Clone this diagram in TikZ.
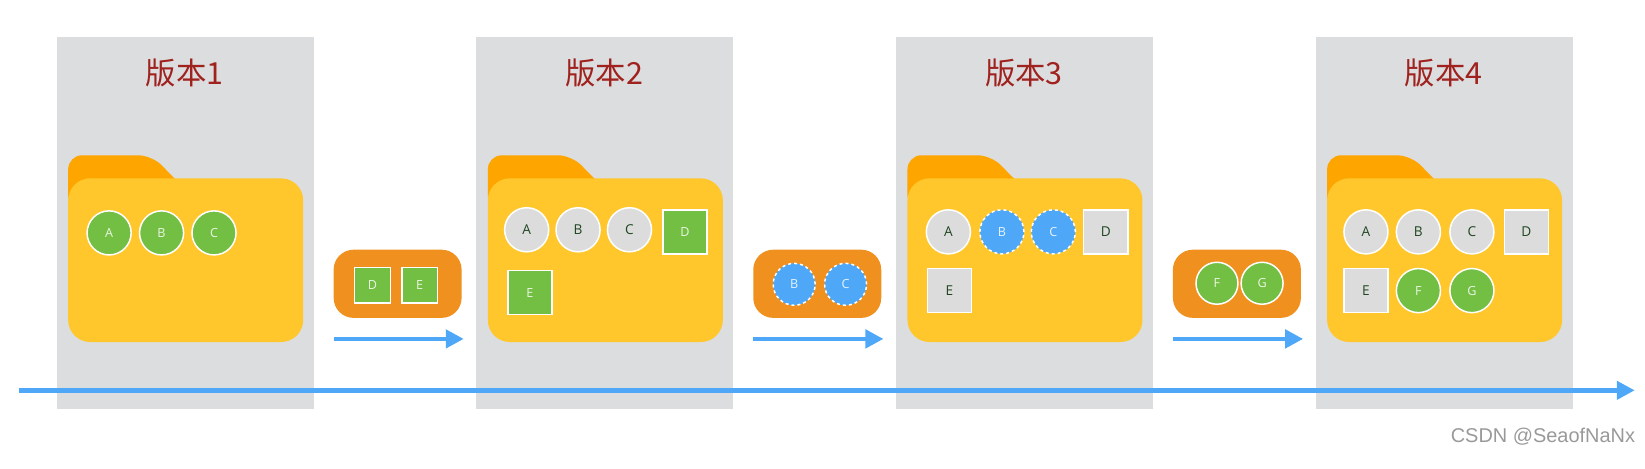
\documentclass[tikz,border=0pt]{standalone}
\usepackage{fontspec}
\setmainfont{Open Sans}
\newfontfamily\cjk{Noto Sans CJK SC}
\newfontfamily\wmf{Liberation Sans}
\usetikzlibrary{arrows.meta}
\definecolor{panel}{HTML}{DCDDDF}
\definecolor{tab}{HTML}{FFA500}
\definecolor{body}{HTML}{FFC72C}
\definecolor{grn}{HTML}{72BF44}
\definecolor{gitem}{HTML}{DCDCDC}
\definecolor{blu}{HTML}{4FA8F7}
\definecolor{org}{HTML}{F0901E}
\definecolor{ttl}{HTML}{A0221E}
\definecolor{txt}{HTML}{1E4620}
\tikzset{
  gc/.style={circle,fill=grn,draw=white,line width=1.5pt,minimum size=42pt,inner sep=0,font=\fontsize{12}{12}\selectfont,text=white!85!grn},
  gs/.style={rectangle,fill=grn,draw=white,line width=1.5pt,minimum size=42pt,inner sep=0,font=\fontsize{12}{12}\selectfont,text=white!85!grn},
  yc/.style={circle,fill=gitem,draw=white,line width=1.5pt,minimum size=42pt,inner sep=0,font=\fontsize{13}{13}\selectfont,text=txt},
  ys/.style={rectangle,fill=gitem,draw=white,line width=1.5pt,minimum size=42pt,inner sep=0,font=\fontsize{13}{13}\selectfont,text=txt},
  bc/.style={circle,fill=blu,draw=white,dashed,line width=1.5pt,minimum size=42pt,inner sep=0,font=\fontsize{12}{12}\selectfont,text=white!85!blu},
  arr/.style={draw=blu,line width=4.5pt,-{Triangle[length=18pt,width=18pt]}},
  ttlf/.style={font=\cjk\fontsize{29}{29}\selectfont,text=ttl},
}
\newcommand{\folder}[1]{%
  \fill[panel] (#1+54,35) rectangle (#1+299,390);%
  \fill[tab,rounded corners=14pt] (#1+65,200) -- (#1+65,148) -- (#1+145,148) -- (#1+168,172) -- (#1+200,200) -- cycle;%
  \fill[body,rounded corners=22pt] (#1+65,170) rectangle (#1+289,326);%
}
\begin{document}
\begin{tikzpicture}[x=1pt,y=-1pt,scale=1.049,every node/.append style={transform shape}]
\useasboundingbox (0,0) rectangle (1568,447);
\folder{0}\folder{400}\folder{800}\folder{1200}
\node[ttlf] (t1) at (176,70) {版本1};
\node[ttlf] (t2) at (576,70) {版本2};
\node[ttlf] (t3) at (976,70) {版本3};
\node[ttlf] (t4) at (1376,70) {版本4};
% v1
\node[gc] (a1) at (104,222) {A};
\node[gc] (b1) at (154,222) {B};
\node[gc] (c1) at (204,222) {C};
% v2
\node[yc] (a2) at (502,219) {A};
\node[yc] (b2) at (551,219) {B};
\node[yc] (c2) at (600,219) {C};
\node[gs] (d2) at (653,221) {D};
\node[gs] (e2) at (505,279) {E};
% v3
\node[yc] (a3) at (904,221) {A};
\node[bc] (b3) at (955,221) {B};
\node[bc] (c3) at (1004,221) {C};
\node[ys] (d3) at (1054,221) {D};
\node[ys] (e3) at (905,277) {E};
% v4
\node[yc] (a4) at (1302,221) {A};
\node[yc] (b4) at (1352,221) {B};
\node[yc] (c4) at (1403,221) {C};
\node[ys] (d4) at (1455,221) {D};
\node[ys] (e4) at (1302,277) {E};
\node[gc] (f4) at (1352,277) {F};
\node[gc] (g4) at (1403,277) {G};
% transit boxes
\fill[org,rounded corners=20pt] (318,238) rectangle (440,303);
\fill[org,rounded corners=20pt] (718,238) rectangle (840,303);
\fill[org,rounded corners=20pt] (1118,238) rectangle (1240,303);
\node[gs,minimum size=34pt] (dx) at (355,272) {D};
\node[gs,minimum size=34pt] (ex) at (400,272) {E};
\node[bc,minimum size=40pt] (bx) at (757,271) {B};
\node[bc,minimum size=40pt] (cx) at (806,271) {C};
\node[gc,minimum size=40pt] (fx) at (1160,270) {F};
\node[gc,minimum size=40pt] (gx) at (1203,270) {G};
% arrows
\coordinate (s1) at (318,323); \coordinate (e1) at (442,323);
\coordinate (s2) at (718,323); \coordinate (e2) at (842,323);
\coordinate (s3) at (1118,323); \coordinate (e3) at (1242,323);
\coordinate (ls) at (18,372); \coordinate (le) at (1558,372);
\draw[arr] (s1) -- (e1);
\draw[arr] (s2) -- (e2);
\draw[arr] (s3) -- (e3);
\draw[arr] (ls) -- (le);
\node[font=\wmf\fontsize{19}{19}\selectfont,text=gray!80,anchor=east] (wm) at (1562,416) {CSDN @SeaofNaNx};
\end{tikzpicture}
\end{document}
